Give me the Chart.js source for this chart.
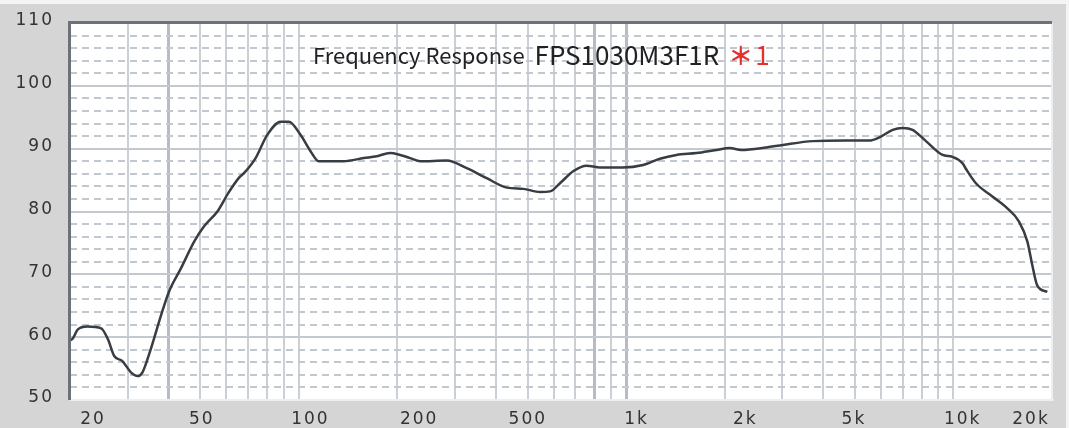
<!DOCTYPE html>
<html>
<head>
<meta charset="utf-8">
<title>Frequency Response FPS1030M3F1R</title>
<script src="https://cdn.jsdelivr.net/npm/chart.js@4.4.1/dist/chart.umd.min.js"></script>
<style>
    html, body { margin: 0; padding: 0; background: #d5d5d5; }
    #wrap { width: 1069px; height: 428px; }
</style>
</head>
<body>
<div id="wrap"><canvas id="fr-chart" width="1069" height="428"></canvas></div>
<script>
// ─── Data ──────────────────────────────────────────────────
const FREQS = [
    20, 20.4, 21.1, 22.6, 24.9, 26.1, 27.3, 28.9, 30.7, 32.2, 33.3, 35.3, 37.9,
    40.1, 43.6, 47.9, 51.3, 56.4, 61, 65.7, 68, 73.8, 80.1, 88, 93.3, 101.2,
    108.6, 115.1, 137, 158, 173, 190, 204, 219, 235, 283, 326, 375, 432, 485,
    546, 586, 628, 689, 757, 832, 979, 1127, 1268, 1425, 1640, 1887, 2072,
    2248, 2680, 3012, 3718, 4700, 5534, 5940, 6520, 6990, 7500, 8240, 9260,
    9930, 10650, 10910, 11710, 13150, 14610, 15860, 16820, 17420, 18040, 19350
];
const SPL = [
    59.5, 59.8, 61.2, 61.7, 61.4, 59.7, 57.0, 56.2, 54.4, 53.8, 54.4, 58.1, 63.4,
    67.2, 70.9, 75.2, 77.6, 80.0, 83.0, 85.4, 86.1, 88.5, 92.2, 94.3, 94.3, 92.2,
    89.6, 88.0, 88.0, 88.5, 88.8, 89.3, 89.0, 88.5, 88.0, 88.1, 86.9, 85.3, 83.8, 83.6,
    83.1, 83.2, 84.5, 86.4, 87.3, 87.0, 87.0, 87.4, 88.4, 89.0, 89.3, 89.8, 90.1,
    89.8, 90.2, 90.6, 91.2, 91.3, 91.3, 91.8, 93.0, 93.3, 93.0, 91.2, 89.0,
    88.7, 87.7, 86.8, 84.5, 82.4, 80.5, 78.4, 75.2, 71.4, 68.2, 67.2
];

// vertical grid (log decades) and axis text
const X_GRID = [
    20, 30, 40, 50, 60, 70, 80, 90,
    100, 200, 300, 400, 500, 600, 700, 800, 900,
    1000, 2000, 3000, 4000, 5000, 6000, 7000, 8000, 9000,
    10000, 20000
];
const X_HEAVY = [40, 800, 1000];
const X_LABELS = ['20', '50', '100', '200', '500', '1k', '2k', '5k', '10k', '20k'];
const Y_LABELS = [110, 100, 90, 80, 70, 60, 50];

const TITLE_TEXT = 'Frequency Response';
const TITLE_MODEL = 'FPS1030M3F1R';
const TITLE_NOTE = '＊1';

// ─── Plugins ───────────────────────────────────────────────
const framePlugin = {
    id: 'frame',
    beforeDraw(chart) {
        const { ctx, chartArea: a, width, height } = chart;
        ctx.save();
        ctx.fillStyle = '#d5d5d5';
        ctx.fillRect(0, 0, width, height);
        ctx.fillStyle = '#f4f4f4';
        ctx.fillRect(0, 0, width, 4);
        ctx.fillRect(width - 3, 0, 3, height);
        ctx.fillStyle = '#ffffff';
        ctx.fillRect(a.left, a.top, a.right - a.left, a.bottom - a.top);
        ctx.restore();
    },
    afterDatasetsDraw(chart) {
        const { ctx, chartArea: a } = chart;
        ctx.save();
        // light bottom / right edge
        ctx.fillStyle = '#eceef0';
        ctx.fillRect(a.left, a.bottom - 1, a.right - a.left + 2, 2);
        ctx.fillRect(a.right - 1, a.top, 2, a.bottom - a.top);
        // dark inset top / left edge
        ctx.fillStyle = '#6c7279';
        ctx.fillRect(a.left - 2, a.top - 2, a.right - a.left + 2, 3);
        ctx.fillRect(a.left - 2, a.top - 2, 3, a.bottom - a.top + 2);
        ctx.restore();
    }
};

const textPlugin = {
    id: 'axisText',
    afterDraw(chart) {
        const { ctx, chartArea: a, scales } = chart;
        ctx.save();
        ctx.fillStyle = '#333333';
        ctx.font = '17px "DejaVu Sans"';
        ctx.letterSpacing = '2px';

        // y labels, right aligned, sitting slightly above their lines
        ctx.textAlign = 'right';
        ctx.textBaseline = 'middle';
        Y_LABELS.forEach(v => {
            ctx.fillText(String(v), a.left - 16, scales.y.getPixelForValue(v) - 2);
        });

        // x labels sit in evenly spaced slots like the original software
        ctx.textAlign = 'center';
        const slot = (a.right - a.left) * 0.1107;
        X_LABELS.forEach((t, i) => {
            const x = i < X_LABELS.length - 1 ? a.left + 23 + i * slot : a.right - 21;
            ctx.fillText(t, x, a.bottom + 20);
        });

        // title
        ctx.letterSpacing = '0px';
        ctx.textAlign = 'left';
        ctx.textBaseline = 'alphabetic';
        const tx = a.left + 243;
        const ty = a.top + 41;
        ctx.fillStyle = '#222222';
        ctx.font = '22px "Noto Sans CJK JP"';
        ctx.fillText(TITLE_TEXT, tx, ty);
        const mx = tx + ctx.measureText(TITLE_TEXT).width + 10;
        ctx.font = '26px "Noto Sans CJK JP"';
        ctx.fillText(TITLE_MODEL, mx, ty + 1);
        const nx = mx + ctx.measureText(TITLE_MODEL).width + 9;
        ctx.fillStyle = '#e5302c';
        ctx.font = 'bold 25px "Noto Sans CJK JP"';
        ctx.fillText(TITLE_NOTE[0], nx, ty + 1);
        const dx = ctx.measureText(TITLE_NOTE[0]).width;
        ctx.font = '26px "Noto Sans CJK JP"';
        ctx.fillText(TITLE_NOTE.slice(1), nx + dx + 2, ty + 1);
        ctx.restore();
    }
};

// ─── Chart ─────────────────────────────────────────────────
function renderResponseChart() {
    const ctx = document.getElementById('fr-chart');

    return new Chart(ctx, {
        type: 'line',
        data: {
            datasets: [{
                data: FREQS.map((f, i) => ({ x: f, y: SPL[i] })),
                borderColor: '#383d43',
                borderWidth: 2.5,
                pointRadius: 0,
                fill: false,
                cubicInterpolationMode: 'monotone'
            }]
        },
        options: {
            responsive: false,
            animation: false,
            devicePixelRatio: 1,
            layout: { padding: { top: 23, right: 17, left: 0, bottom: 0 } },
            plugins: {
                legend: { display: false },
                tooltip: { enabled: false },
                title: { display: false }
            },
            scales: {
                x: {
                    type: 'logarithmic',
                    min: 20,
                    max: 20000,
                    afterBuildTicks: s => { s.ticks = X_GRID.map(v => ({ value: v })); },
                    afterFit: s => { s.height = 28; },
                    ticks: { display: false },
                    border: { display: false },
                    grid: {
                        drawTicks: false,
                        color: c => X_HEAVY.includes(c.tick && c.tick.value) ? '#b7bcc4' : '#cbcfd6',
                        lineWidth: c => X_HEAVY.includes(c.tick && c.tick.value) ? 3 : 2
                    }
                },
                y: {
                    type: 'linear',
                    position: 'left',
                    min: 50,
                    max: 110,
                    afterFit: s => { s.width = 70; },
                    ticks: { stepSize: 10, display: false },
                    border: { display: false },
                    grid: { drawTicks: false, color: '#c4c8cf', lineWidth: 2 }
                },
                yMinor: {
                    type: 'linear',
                    position: 'left',
                    min: 50,
                    max: 110,
                    afterFit: s => { s.width = 0; },
                    ticks: { stepSize: 2, display: false },
                    border: { display: false, dash: [7, 5] },
                    grid: {
                        drawTicks: false,
                        lineWidth: 2,
                        color: c => (c.tick && c.tick.value % 10 === 0) ? 'rgba(0,0,0,0)' : '#c3c7ce'
                    }
                }
            }
        },
        plugins: [framePlugin, textPlugin]
    });
}

renderResponseChart();
</script>
</body>
</html>
